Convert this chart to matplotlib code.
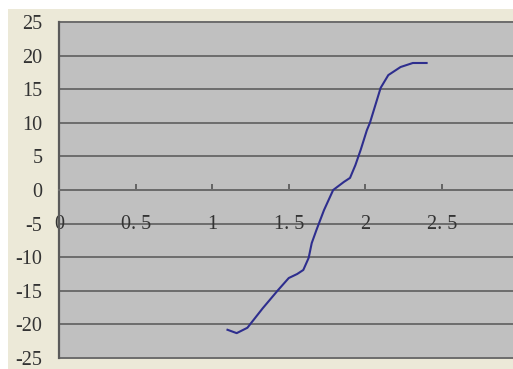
import matplotlib
matplotlib.use("Agg")
import matplotlib.pyplot as plt
from matplotlib.patches import Rectangle

# curve samples
x_vals = [1.10, 1.16, 1.23, 1.33, 1.43, 1.50, 1.555, 1.595, 1.63, 1.65, 1.68,
          1.73, 1.79, 1.86, 1.90, 1.935, 1.97, 2.01, 2.03, 2.10, 2.15, 2.23,
          2.31, 2.40]
y_vals = [-20.8, -21.3, -20.5, -17.6, -14.9, -13.1, -12.5, -11.9, -10.1, -7.9,
          -6.0, -3.0, 0.0, 1.2, 1.8, 3.7, 6.0, 8.9, 10.0, 15.2, 17.1, 18.3,
          18.9, 18.9]

x_ticks = [0, 0.5, 1, 1.5, 2, 2.5]
x_labels = ["0", "0. 5", "1", "1. 5", "2", "2. 5"]
y_ticks = [-25, -20, -15, -10, -5, 0, 5, 10, 15, 20, 25]
y_labels = ["-25", "-20", "-15", "-10", "-5", "0", "5", "10", "15", "20", "25"]

W, H = 513, 369
fig = plt.figure(figsize=(W / 100, H / 100), dpi=100, facecolor="white")
fig.patches.append(Rectangle((8 / W, 0), 1, 1 - 9 / H, transform=fig.transFigure,
                             facecolor="#ECE9D8", edgecolor="none", zorder=-10))

left, top, bottom = 59, 22, 358
right = 518.5
ax = fig.add_axes([left / W, 1 - bottom / H, (right - left) / W, (bottom - top) / H])
ax.set_zorder(1)
ax.set_facecolor("#C0C0C0")
ax.set_xlim(0, 3)
ax.set_ylim(-25, 25)

grid_c = "#6c6c6c"
for yv in y_ticks:
    ax.axhline(yv, color=grid_c, lw=1.4, zorder=1, clip_on=False if yv in (-25, 25) else True)

for s in ("top", "right"):
    ax.spines[s].set_visible(False)
ax.spines["left"].set_color("#5a5a5a")
ax.spines["left"].set_linewidth(1.6)
ax.spines["bottom"].set_position(("data", 0))
ax.spines["bottom"].set_color(grid_c)
ax.spines["bottom"].set_linewidth(1.4)

font = {"family": ["Liberation Serif", "DejaVu Serif"], "size": 14.5}
ax.set_yticks(y_ticks)
ax.set_yticklabels(y_labels, fontdict=font, color="#333333")
ax.tick_params(axis="y", length=0, pad=12)

ax.set_xticks(x_ticks)
ax.set_xticklabels(x_labels, fontdict=font, color="#333333")
ax.tick_params(axis="x", direction="in", length=4, width=1.2, color="#555555", pad=18)

ax.plot(x_vals, y_vals, color="#2e2e8e", lw=1.5, zorder=3)

fig.savefig("out.png", dpi=100, facecolor=fig.get_facecolor())
